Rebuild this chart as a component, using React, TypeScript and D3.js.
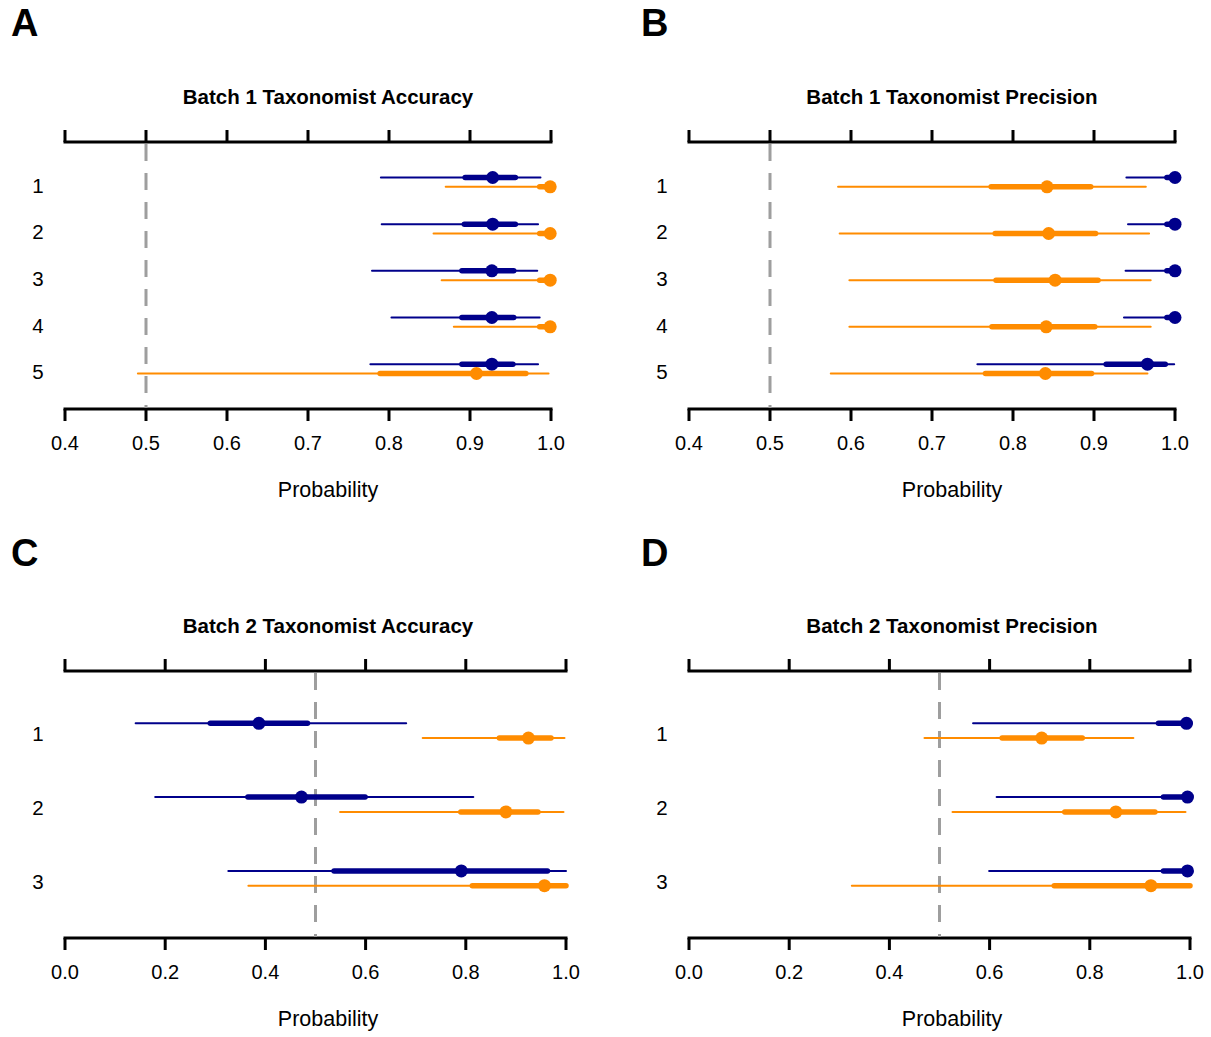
import React from "react";
import * as d3 from "d3";

// ---------- DATA ----------
const rowsBatch1 = ["1", "2", "3", "4", "5"];
const rowsBatch2 = ["1", "2", "3"];
const ticksBatch1 = [0.4, 0.5, 0.6, 0.7, 0.8, 0.9, 1.0];
const ticksBatch2 = [0.0, 0.2, 0.4, 0.6, 0.8, 1.0];
const titles = [
  "Batch 1 Taxonomist Accuracy",
  "Batch 1 Taxonomist Precision",
  "Batch 2 Taxonomist Accuracy",
  "Batch 2 Taxonomist Precision",
];
const panelLetters = ["A", "B", "C", "D"];

// Panel A
const aBlueMid = [0.928, 0.928, 0.927, 0.927, 0.927];
const aBlueLo50 = [0.894, 0.893, 0.89, 0.89, 0.89];
const aBlueHi50 = [0.956, 0.956, 0.954, 0.954, 0.953];
const aBlueLo95 = [0.79, 0.791, 0.779, 0.803, 0.777];
const aBlueHi95 = [0.987, 0.984, 0.983, 0.986, 0.984];
const aOrangeMid = [0.999, 0.999, 0.999, 0.999, 0.908];
const aOrangeLo50 = [0.986, 0.986, 0.986, 0.986, 0.789];
const aOrangeHi50 = [1.0, 1.0, 1.0, 1.0, 0.969];
const aOrangeLo95 = [0.87, 0.855, 0.865, 0.88, 0.49];
const aOrangeHi95 = [1.0, 1.0, 1.0, 1.0, 0.997];

// Panel B
const bBlueMid = [1.0, 1.0, 1.0, 1.0, 0.966];
const bBlueLo50 = [0.99, 0.99, 0.99, 0.99, 0.915];
const bBlueHi50 = [1.0, 1.0, 1.0, 1.0, 0.988];
const bBlueLo95 = [0.94, 0.942, 0.939, 0.937, 0.756];
const bBlueHi95 = [1.0, 1.0, 1.0, 1.0, 0.999];
const bOrangeMid = [0.842, 0.844, 0.852, 0.841, 0.84];
const bOrangeLo50 = [0.773, 0.778, 0.779, 0.774, 0.766];
const bOrangeHi50 = [0.896, 0.902, 0.905, 0.901, 0.897];
const bOrangeLo95 = [0.584, 0.586, 0.598, 0.598, 0.575];
const bOrangeHi95 = [0.964, 0.968, 0.97, 0.97, 0.966];

// Panel C
const cBlueMid = [0.387, 0.472, 0.791];
const cBlueLo50 = [0.29, 0.365, 0.537];
const cBlueHi50 = [0.484, 0.599, 0.963];
const cBlueLo95 = [0.141, 0.18, 0.326];
const cBlueHi95 = [0.681, 0.815, 1.0];
const cOrangeMid = [0.925, 0.88, 0.957];
const cOrangeLo50 = [0.867, 0.79, 0.813];
const cOrangeHi50 = [0.97, 0.944, 1.0];
const cOrangeLo95 = [0.714, 0.549, 0.366];
const cOrangeHi95 = [0.997, 0.995, 1.0];

// Panel D
const dBlueMid = [0.993, 0.995, 0.995];
const dBlueLo50 = [0.937, 0.947, 0.947];
const dBlueHi50 = [1.0, 1.0, 1.0];
const dBlueLo95 = [0.567, 0.614, 0.599];
const dBlueHi95 = [1.0, 1.0, 1.0];
const dOrangeMid = [0.704, 0.852, 0.922];
const dOrangeLo50 = [0.625, 0.75, 0.729];
const dOrangeHi50 = [0.785, 0.93, 1.0];
const dOrangeLo95 = [0.47, 0.526, 0.325];
const dOrangeHi95 = [0.887, 0.991, 1.0];

const referenceLine = 0.5;

// ---------- STYLE ----------
const BLUE = "#00008B";
const ORANGE = "#FF8C00";
const GRAY = "#9E9E9E";
const FONT = "'Liberation Sans', Arial, sans-serif";

type Series = { mid: number[]; lo50: number[]; hi50: number[]; lo95: number[]; hi95: number[] };

type PanelProps = {
  title: string;
  letter: string;
  rows: string[];
  ticks: number[];
  blue: Series;
  orange: Series;
  x0: number;
  x1: number;
  yTop: number;
  yBot: number;
  yDomain: [number, number];
  letterX: number;
  letterY: number;
  rowLabelX: number;
};

function Panel(p: PanelProps) {
  const lo = p.ticks[0];
  const hi = p.ticks[p.ticks.length - 1];
  const x = d3.scaleLinear().domain([lo, hi]).range([p.x0, p.x1]);
  const y = d3.scaleLinear().domain(p.yDomain).range([p.yTop, p.yBot]);
  const fmt = d3.format(".1f");
  // title / axis label centre (centre of the plot region, a fixed pixel offset from the axis start)
  const cx = p.x0 + 263;
  const tickLen = 12;
  const drawSeries = (s: Series, color: string, off: number) =>
    p.rows.map((_, i) => {
      const yy = y(i + 1 + off);
      return (
        <g key={color + i}>
          <line x1={x(s.lo95[i])} x2={x(s.hi95[i])} y1={yy} y2={yy} stroke={color} strokeWidth={2} strokeLinecap="round" />
          <line x1={x(s.lo50[i])} x2={x(s.hi50[i])} y1={yy} y2={yy} stroke={color} strokeWidth={5.5} strokeLinecap="round" />
          <circle cx={x(s.mid[i])} cy={yy} r={6.5} fill={color} />
        </g>
      );
    });
  return (
    <g fontFamily={FONT}>
      <text x={p.letterX} y={p.letterY} fontSize={38} fontWeight="bold" dominantBaseline="central" fill="#000">
        {p.letter}
      </text>
      <text x={cx} y={p.yTop - 46} fontSize={20.5} fontWeight="bold" textAnchor="middle" dominantBaseline="central" fill="#000">
        {p.title}
      </text>
      {/* top axis */}
      <line x1={p.x0} x2={p.x1} y1={p.yTop} y2={p.yTop} stroke="#000" strokeWidth={3} strokeLinecap="square" />
      {p.ticks.map((t) => (
        <line key={"tt" + t} x1={x(t)} x2={x(t)} y1={p.yTop} y2={p.yTop - tickLen} stroke="#000" strokeWidth={3} />
      ))}
      {/* bottom axis */}
      <line x1={p.x0} x2={p.x1} y1={p.yBot} y2={p.yBot} stroke="#000" strokeWidth={3} strokeLinecap="square" />
      {p.ticks.map((t) => (
        <g key={"bt" + t}>
          <line x1={x(t)} x2={x(t)} y1={p.yBot} y2={p.yBot + tickLen} stroke="#000" strokeWidth={3} />
          <text x={x(t)} y={p.yBot + 34} fontSize={20} textAnchor="middle" dominantBaseline="central" fill="#000">
            {fmt(t)}
          </text>
        </g>
      ))}
      <text x={cx} y={p.yBot + 81} fontSize={21.5} textAnchor="middle" dominantBaseline="central" fill="#000">
        Probability
      </text>
      {/* reference dashed line */}
      <line x1={x(referenceLine)} x2={x(referenceLine)} y1={p.yTop + 2} y2={p.yBot - 1} stroke={GRAY} strokeWidth={3} strokeDasharray="17 12" />
      {/* row labels */}
      {p.rows.map((r, i) => (
        <text key={"rl" + r} x={p.rowLabelX} y={y(i + 1) + 3} fontSize={20.5} textAnchor="middle" dominantBaseline="central" fill="#000">
          {r}
        </text>
      ))}
      {drawSeries(p.blue, BLUE, -0.1)}
      {drawSeries(p.orange, ORANGE, 0.1)}
    </g>
  );
}

export default function App() {
  const mk = (mid: number[], lo50: number[], hi50: number[], lo95: number[], hi95: number[]): Series => ({ mid, lo50, hi50, lo95, hi95 });
  return (
    <svg width={1211} height={1037} style={{ position: "absolute", left: 0, top: 0, background: "#fff" }}>
      <rect width={1211} height={1037} fill="#fff" />
      <Panel
        title={titles[0]}
        letter={panelLetters[0]}
        rows={rowsBatch1}
        ticks={ticksBatch1}
        blue={mk(aBlueMid, aBlueLo50, aBlueHi50, aBlueLo95, aBlueHi95)}
        orange={mk(aOrangeMid, aOrangeLo50, aOrangeHi50, aOrangeLo95, aOrangeHi95)}
        x0={65}
        x1={551}
        yTop={142}
        yBot={409}
        yDomain={[0.14, 5.86]}
        letterX={11}
        letterY={23}
        rowLabelX={38}
      />
      <Panel
        title={titles[1]}
        letter={panelLetters[1]}
        rows={rowsBatch1}
        ticks={ticksBatch1}
        blue={mk(bBlueMid, bBlueLo50, bBlueHi50, bBlueLo95, bBlueHi95)}
        orange={mk(bOrangeMid, bOrangeLo50, bOrangeHi50, bOrangeLo95, bOrangeHi95)}
        x0={689}
        x1={1175}
        yTop={142}
        yBot={409}
        yDomain={[0.14, 5.86]}
        letterX={641}
        letterY={23}
        rowLabelX={662}
      />
      <Panel
        title={titles[2]}
        letter={panelLetters[2]}
        rows={rowsBatch2}
        ticks={ticksBatch2}
        blue={mk(cBlueMid, cBlueLo50, cBlueHi50, cBlueLo95, cBlueHi95)}
        orange={mk(cOrangeMid, cOrangeLo50, cOrangeHi50, cOrangeLo95, cOrangeHi95)}
        x0={65}
        x1={566}
        yTop={671}
        yBot={938}
        yDomain={[0.19, 3.81]}
        letterX={11}
        letterY={553}
        rowLabelX={38}
      />
      <Panel
        title={titles[3]}
        letter={panelLetters[3]}
        rows={rowsBatch2}
        ticks={ticksBatch2}
        blue={mk(dBlueMid, dBlueLo50, dBlueHi50, dBlueLo95, dBlueHi95)}
        orange={mk(dOrangeMid, dOrangeLo50, dOrangeHi50, dOrangeLo95, dOrangeHi95)}
        x0={689}
        x1={1190}
        yTop={671}
        yBot={938}
        yDomain={[0.19, 3.81]}
        letterX={641}
        letterY={553}
        rowLabelX={662}
      />
    </svg>
  );
}
